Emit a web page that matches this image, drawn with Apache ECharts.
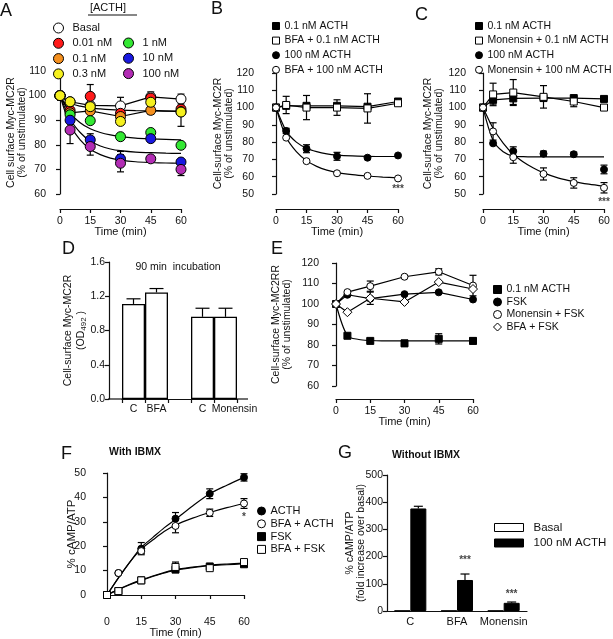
<!DOCTYPE html>
<html lang="en">
<head>
<meta charset="UTF-8">
<title>MC2R trafficking</title>
<script src="https://cdn.jsdelivr.net/npm/echarts@6/dist/echarts.min.js"></script>
<style>html,body{margin:0;background:#fff}#chart{width:613px;height:639px}</style>
</head>
<body>
<div id="chart"></div>
<script>
const FONT = 'Liberation Sans, Arial, sans-serif';
const INK = '#111';
const times = [0, 5, 15, 30, 45, 60];
const fitT = [0, 5, 10, 15, 20, 25, 30, 37.5, 45, 52.5, 60];

// A: dose series
const aBasal = [100, 97.5, 96, 95.8, 99.5, 98.6];
const a001 = [100, 94, 99.7, 92.8, 99, 94.5];
const a01 = [100, 93, 93.8, 91.5, 94, 93.5];
const a03 = [100, 97.5, 95.5, 89.5, 97.3, 93.3];
const a1 = [100, 92.2, 89.8, 83.3, 85, 79.8];
const a10 = [100, 90, 82, 74.3, 82.5, 73];
const a100 = [100, 86, 79.3, 72.5, 74.3, 70];
const aFit1 = [100, 97, 95.7, 95, 94.6, 94.3, 94.1, 93.9, 93.8, 93.7, 93.7];
const aFit3 = [100, 93, 89, 86.5, 85, 84, 83.3, 82.7, 82.4, 82.2, 82];
const aFit4 = [100, 90.5, 85, 81.5, 79.5, 78.3, 77.6, 77, 76.8, 76.6, 76.5];
const aFit5 = [100, 88, 82, 78.2, 76, 74.6, 73.8, 73.1, 72.8, 72.6, 72.5];
const aErr001 = [0, 0, 4.8, 0, 2.5, 0];
const aErr01 = [0, 0, 0, 2.5, 1.5, 6];
const aErrBasal = [0, 0, 0, 3.5, 0, 2];
const aErr100 = [0, 5.5, 3.5, 3.5, 0, 2.5];
const aErr10 = [0, 0, 2.5, 3, 0, 0];

// B: BFA
const b01 = [100, 101, 101, 101, 100.5, 103.5];
const bBfa01 = [100, 101.5, 100, 100, 99.5, 102.5];
const bBfa01Err = [0, 5, 7, 4.5, 8.5, 1];
const b100 = [100, 86.5, 76.2, 71.8, 71, 72.3];
const b100Err = [0, 1.5, 2.3, 2.3, 0, 0];
const bBfa100 = [100, 82.6, 69, 62, 60.5, 59];
const bFit100 = [100, 86.5, 80, 76.5, 74.5, 73.2, 72.5, 72, 71.8, 71.7, 71.7];
const bFitBfa100 = [100, 82.8, 74.5, 69.3, 66, 63.8, 62.4, 61.2, 60.4, 59.8, 59.3];

// C: monensin
const c01 = [100, 104.5, 105.3, 105.5, 105.5, 105];
const c01Err = [0, 2.5, 3.5, 0, 1, 0];
const cMon01 = [100, 107.6, 108.7, 106.2, 103.5, 100];
const cMon01Err = [0, 6.5, 7.5, 6.5, 3, 1.5];
const c100 = [100, 79.3, 74.8, 73.3, 73, 64.2];
const c100Err = [0, 0, 2.5, 1.5, 1.2, 2.5];
const cMon100 = [100, 86.2, 71.3, 61.6, 56.4, 53.6];
const cMon100Err = [0, 5, 3.5, 3.5, 3, 3];
const cFit100 = [100, 81, 74.5, 72, 71.6, 71.5, 71.5, 71.5, 71.5, 71.5, 71.5];
const cFitMon100 = [100, 88, 79.5, 73, 68.5, 65, 62.2, 59.2, 57.2, 55.7, 54.5];

// D: 90 min incubation
const dCats = ['C', 'BFA', '', 'C', 'Monensin'];
const dVals = [1.11, 1.245, '-', 0.96, 0.96];
const dErr = [0.06, 0.045, 0, 0.1, 0.1];

// E: forskolin
const e01 = [100, 84.5, 82, 80.8, 83, 82];
const e01Err = [0, 0, 1, 1.5, 2.5, 1.5];
const eFit01 = [100, 84.5, 82.7, 82.2, 82, 82, 82, 82, 82, 82, 82];
const eFsk = [100, 104.5, 102.6, 104.8, 105.7, 102.2];
const eMonFsk = [100, 105.8, 108.7, 113.3, 115.7, 109];
const eMonFskErr = [0, 0, 2.5, 0, 1.5, 5];
const eBfaFsk = [100, 96, 102.8, 101, 110.7, 107.3];
const eBfaFskErr = [0, 0, 3, 0, 0, 0];

// F: cAMP with IBMX
const fActh = [0, 9, 19, 31.3, 41.5, 48.2];
const fActhErr = [0, 0, 2.5, 2.5, 2, 1.5];
const fBfaActh = [0, 9, 18, 28.3, 33.7, 37.5];
const fBfaActhErr = [0, 0.5, 1, 2.8, 1.5, 2];
const fFsk = [0, 1.6, 6, 10.4, 11.7, 12.6];
const fBfaFsk = [0, 1.6, 6, 11.5, 11, 13.5];
const fBfaFskErr = [0, 0, 0, 2, 0, 0];
const fFitActh = [0, 7, 13.5, 19.5, 23.5, 27.5, 31, 36.5, 41.5, 45, 48.2];
const fFitBfaActh = [0, 7, 13.5, 18.8, 22.5, 26, 28.7, 31.5, 33.8, 35.8, 37.5];
const fFitFsk = [0, 2.2, 4.2, 6, 7.6, 9, 10.2, 11.2, 12, 12.4, 12.8];
const fFitBfaFsk = [0, 2.3, 4.4, 6.2, 7.8, 9.2, 10.4, 11.4, 12.2, 12.7, 13.1];

// G: cAMP without IBMX
const gCats = ['C', 'BFA', 'Monensin'];
const gBasal = [1, 1, 1];
const gActh = [377, 114, 30];
const gErr = [8, 22, 3];
const gStars = [[1, 185], [2, 62]];

const pts = vals => times.map((t, i) => [t, vals[i]]);
const fitPts = vals => fitT.map((t, i) => [t, vals[i]]);
const errs = (vals, e) => times.map((t, i) => [t, vals[i], e[i]]).filter(d => d[2] > 0);

function scatter(name, gi, vals, symbol, color, size) {
    return {
        type: 'scatter', name, xAxisIndex: gi, yAxisIndex: gi, data: pts(vals),
        symbol, symbolSize: size || 7, clip: false, z: 5,
        itemStyle: {color, borderColor: '#000', borderWidth: 1, opacity: 1}
    };
}
function line(gi, data, smooth) {
    return {
        type: 'line', xAxisIndex: gi, yAxisIndex: gi, data, symbol: 'none',
        smooth: smooth ? 0.3 : false, silent: true, z: 2,
        lineStyle: {color: '#000', width: 1.2}
    };
}
function errBars(gi, data, cap, upOnly, shift) {
    return {
        type: 'custom', xAxisIndex: gi, yAxisIndex: gi, data, z: 3, silent: true, clip: false,
        encode: {x: 0, y: 1},
        renderItem(params, api) {
            const x = api.value(0), v = api.value(1), e = api.value(2);
            const hi = api.coord([x, v + e]);
            const lo = api.coord([x, upOnly ? v : v - e]);
            const cx = hi[0] + (shift || 0);
            const st = {stroke: '#000', lineWidth: 1.2};
            const ch = [
                {type: 'line', shape: {x1: cx, y1: hi[1], x2: cx, y2: lo[1]}, style: st},
                {type: 'line', shape: {x1: cx - cap / 2, y1: hi[1], x2: cx + cap / 2, y2: hi[1]}, style: st}
            ];
            if (!upOnly) ch.push({type: 'line', shape: {x1: cx - cap / 2, y1: lo[1], x2: cx + cap / 2, y2: lo[1]}, style: st});
            return {type: 'group', children: ch};
        }
    };
}
function stars(gi, data, text, dx) {
    return {
        type: 'scatter', xAxisIndex: gi, yAxisIndex: gi, data, symbolSize: 1, clip: false, silent: true,
        itemStyle: {color: 'rgba(0,0,0,0)'},
        label: {show: true, position: 'inside', formatter: text, color: INK, fontSize: 10, fontWeight: 'bold',
            fontFamily: FONT, offset: [dx || 0, 0]}
    };
}

const axLine = {show: true, lineStyle: {color: INK, width: 1.2}};
const axTick = {show: true, length: 4, lineStyle: {color: INK, width: 1.2}};
const axLabel = {color: INK, fontSize: 10.5, fontFamily: FONT, margin: 4};

function timeAxis(gi, offset) {
    return {
        gridIndex: gi, type: 'value', min: 0, max: 60, interval: 15, offset,
        name: 'Time (min)', nameLocation: 'middle', nameGap: 17, nameMoveOverlap: false,
        nameTextStyle: {color: INK, fontSize: 11, fontFamily: FONT},
        axisLine: axLine, axisTick: axTick, axisLabel: Object.assign({}, axLabel, {margin: 7}),
        splitLine: {show: false}
    };
}
function valAxis(gi, min, max, interval, offset, name, nameGap, extra) {
    return Object.assign({
        gridIndex: gi, type: 'value', min, max, interval, offset,
        name, nameLocation: 'middle', nameGap, nameRotate: 90, nameMoveOverlap: false,
        nameTextStyle: {color: INK, fontSize: 10.5, fontFamily: FONT, lineHeight: 11},
        axisLine: axLine, axisTick: axTick, axisLabel: axLabel, splitLine: {show: false}
    }, extra || {});
}
function leg(name, icon, color) {
    return {name, icon, itemStyle: {color, borderColor: '#000', borderWidth: 1}};
}
function legend(left, top, gap, size, fontSize, data, w) {
    return {
        left, top, padding: 0, orient: 'vertical', itemGap: gap, itemWidth: w || size, itemHeight: size,
        selectedMode: false, symbolKeepAspect: true,
        textStyle: {color: INK, fontSize, fontFamily: FONT}, data
    };
}

const grids = [
    {left: 60, top: 71, width: 121, height: 123},   // A
    {left: 276, top: 73, width: 122, height: 121},  // B
    {left: 483, top: 73, width: 121, height: 121},  // C
    {left: 122, top: 262, width: 115, height: 137}, // D
    {left: 336, top: 263, width: 137, height: 123}, // E
    {left: 107, top: 473, width: 137, height: 123}, // F
    {left: 387, top: 475, width: 140, height: 136}  // G
];

const colA = {basal: '#ffffff', c001: '#ff1a1a', c01: '#f5901e', c03: '#f5f01e', c1: '#33e833', c10: '#1818e0', c100: '#b22cb4'};

const dLabels = dCats.map(c => c === 'Monensin' ? {value: c, textStyle: {padding: [0, 0, 0, 18]}} : c);

const xAxes = [
    timeAxis(0, 15), timeAxis(1, 15), timeAxis(2, 15),
    {gridIndex: 3, type: 'category', data: dLabels, axisLine: axLine, axisTick: axTick,
        axisLabel: Object.assign({}, axLabel, {margin: 5, interval: 0})},
    timeAxis(4, 13), timeAxis(5, 15),
    {gridIndex: 6, type: 'category', data: gCats, axisLine: axLine, axisTick: {show: false},
        axisLabel: Object.assign({}, axLabel, {margin: 5, fontSize: 11, interval: 0})}
];
const yAxes = [
    valAxis(0, 60, 110, 10, 10, 'Cell surface Myc-MC2R\n(% of unstimulated)', 22),
    valAxis(1, 50, 120, 10, 18, 'Cell-surface Myc-MC2R\n(% of unstimulated)', 23),
    valAxis(2, 50, 120, 10, 13, 'Cell-surface Myc-MC2R\n(% of unstimulated)', 25),
    valAxis(3, 0, 1.6, 0.4, 13, 'Cell-surface Myc-MC2R\n(OD{s|492} )', 21, {
        axisLabel: Object.assign({}, axLabel, {formatter: v => v.toFixed(1)}),
        nameTextStyle: {color: INK, fontSize: 10.5, fontFamily: FONT, lineHeight: 13,
            rich: {s: {fontSize: 8, fontFamily: FONT, color: INK, verticalAlign: 'bottom', padding: [4, 0, 0, 0]}}}
    }),
    valAxis(4, 60, 120, 10, 13, 'Cell-surface Myc-MC2RR\n(% of unstimulated)', 30),
    valAxis(5, 0, 50, 10, 17, '% cAMP/ATP', 12, {
        nameTextStyle: {color: INK, fontSize: 11.5, fontFamily: FONT}
    }),
    valAxis(6, 0, 500, 100, 0, '% cAMP/ATP\n(fold increase over basal)', 20, {
        nameTextStyle: {color: INK, fontSize: 10.5, fontFamily: FONT, lineHeight: 11}
    })
];

const series = [
    // A
    line(0, pts(aBasal), false), line(0, fitPts(aFit1), true), line(0, pts(a01), false),
    line(0, fitPts(aFit3), true), line(0, fitPts(aFit4), true), line(0, fitPts(aFit5), true),
    errBars(0, errs(a001, aErr001), 7), errBars(0, errs(a01, aErr01), 7),
    errBars(0, errs(aBasal, aErrBasal), 7), errBars(0, errs(a100, aErr100), 7),
    errBars(0, errs(a10, aErr10), 7),
    scatter('Basal', 0, aBasal, 'circle', colA.basal, 10),
    scatter('0.01 nM', 0, a001, 'circle', colA.c001, 10),
    scatter('0.1 nM', 0, a01, 'circle', colA.c01, 10),
    scatter('1 nM', 0, a1, 'circle', colA.c1, 10),
    scatter('10 nM', 0, a10, 'circle', colA.c10, 10),
    scatter('100 nM', 0, a100, 'circle', colA.c100, 10),
    scatter('0.3 nM', 0, a03, 'circle', colA.c03, 10),
    // B
    line(1, pts(b01), false), line(1, pts(bBfa01), false),
    line(1, fitPts(bFit100), true), line(1, fitPts(bFitBfa100), true),
    errBars(1, errs(bBfa01, bBfa01Err), 7), errBars(1, errs(b100, b100Err), 7),
    scatter('0.1 nM ACTH', 1, b01, 'rect', '#000', 7),
    scatter('BFA + 0.1 nM ACTH', 1, bBfa01, 'rect', '#fff', 7),
    scatter('100 nM ACTH', 1, b100, 'circle', '#000', 7),
    scatter('BFA + 100 nM ACTH', 1, bBfa100, 'circle', '#fff', 7),
    stars(1, [[60, 53]], '***'),
    // C
    line(2, pts(c01), false), line(2, pts(cMon01), false),
    line(2, fitPts(cFit100), true), line(2, fitPts(cFitMon100), true),
    errBars(2, errs(c01, c01Err), 7), errBars(2, errs(cMon01, cMon01Err), 7),
    errBars(2, errs(c100, c100Err), 7), errBars(2, errs(cMon100, cMon100Err), 7),
    scatter('0.1 nM ACTH', 2, c01, 'rect', '#000', 7),
    scatter('Monensin + 0.1 nM ACTH', 2, cMon01, 'rect', '#fff', 7),
    scatter('100 nM ACTH', 2, c100, 'circle', '#000', 7),
    scatter('Monensin + 100 nM ACTH', 2, cMon100, 'circle', '#fff', 7),
    stars(2, [[60, 45.5]], '***'),
    // D
    {type: 'bar', xAxisIndex: 3, yAxisIndex: 3, data: dVals, barWidth: '100%', z: 2,
        itemStyle: {color: '#fff', borderColor: '#000', borderWidth: 1.3}},
    errBars(3, dVals.map((v, i) => [i, v, dErr[i]]).filter(d => d[2] > 0), 14, true),
    // E
    line(4, fitPts(eFit01), true), line(4, pts(eFsk), false), line(4, pts(eMonFsk), false), line(4, pts(eBfaFsk), false),
    errBars(4, errs(e01, e01Err), 7), errBars(4, errs(eMonFsk, eMonFskErr), 7),
    errBars(4, errs(eBfaFsk, eBfaFskErr), 7),
    scatter('0.1 nM ACTH', 4, e01, 'rect', '#000', 7),
    scatter('FSK', 4, eFsk, 'circle', '#000', 7),
    scatter('Monensin + FSK', 4, eMonFsk, 'circle', '#fff', 7),
    scatter('BFA + FSK', 4, eBfaFsk, 'diamond', '#fff', 9),
    // F
    line(5, fitPts(fFitActh), true), line(5, fitPts(fFitBfaActh), true),
    line(5, fitPts(fFitFsk), true), line(5, fitPts(fFitBfaFsk), true),
    errBars(5, errs(fActh, fActhErr), 7), errBars(5, errs(fBfaActh, fBfaActhErr), 7),
    errBars(5, errs(fBfaFsk, fBfaFskErr), 7),
    scatter('ACTH', 5, fActh, 'circle', '#000', 7),
    scatter('BFA + ACTH', 5, fBfaActh, 'circle', '#fff', 7),
    scatter('FSK', 5, fFsk, 'rect', '#000', 7),
    scatter('BFA + FSK', 5, fBfaFsk, 'rect', '#fff', 7),
    stars(5, [[60, 32]], '*'),
    // G
    {type: 'bar', name: 'Basal', xAxisIndex: 6, yAxisIndex: 6, data: gBasal, barWidth: 16, barGap: '0%',
        itemStyle: {color: '#fff', borderColor: '#000', borderWidth: 1}},
    {type: 'bar', name: '100 nM ACTH', xAxisIndex: 6, yAxisIndex: 6, data: gActh, barWidth: 16, barGap: '0%',
        itemStyle: {color: '#000', borderColor: '#000', borderWidth: 1}},
    errBars(6, gActh.map((v, i) => [i, v, gErr[i]]), 9, true, 8),
    stars(6, gStars, '***', 8)
];

const legends = [
    legend(53, 22.5, 4.3, 10, 11, [
        leg('Basal', 'circle', colA.basal), leg('0.01 nM', 'circle', colA.c001),
        leg('0.1 nM', 'circle', colA.c01), leg('0.3 nM', 'circle', colA.c03)], 18),
    legend(123, 37.5, 4.3, 10, 11, [
        leg('1 nM', 'circle', colA.c1), leg('10 nM', 'circle', colA.c10), leg('100 nM', 'circle', colA.c100)], 18),
    legend(272, 20.5, 3.6, 7, 10.5, [
        leg('0.1 nM ACTH', 'rect', '#000'), leg('BFA + 0.1 nM ACTH', 'rect', '#fff'),
        leg('100 nM ACTH', 'circle', '#000'), leg('BFA + 100 nM ACTH', 'circle', '#fff')]),
    legend(475, 20.5, 3.6, 7, 10.5, [
        leg('0.1 nM ACTH', 'rect', '#000'), leg('Monensin + 0.1 nM ACTH', 'rect', '#fff'),
        leg('100 nM ACTH', 'circle', '#000'), leg('Monensin + 100 nM ACTH', 'circle', '#fff')]),
    legend(493, 284, 1.5, 8, 10.5, [
        leg('0.1 nM ACTH', 'rect', '#000'), leg('FSK', 'circle', '#000'),
        leg('Monensin + FSK', 'circle', '#fff'), leg('BFA + FSK', 'diamond', '#fff')]),
    legend(257, 505.5, 1.8, 8, 11, [
        leg('ACTH', 'circle', '#000'), leg('BFA + ACTH', 'circle', '#fff'),
        leg('FSK', 'rect', '#000'), leg('BFA + FSK', 'rect', '#fff')]),
    Object.assign(legend(494, 521.5, 3.5, 8, 11.5, [
        leg('Basal', 'rect', '#fff'), leg('100 nM ACTH', 'rect', '#000')], 29), {
        textStyle: {color: INK, fontSize: 11.5, fontFamily: FONT, padding: [0, 0, 0, 5]}
    })
];

function txt(x, y, text, size, weight, align) {
    return {type: 'text', x, y, silent: true, style: {text, fill: INK, font: (weight || 'normal') + ' ' + size + 'px ' + FONT,
        textAlign: align || 'left', textVerticalAlign: 'top'}};
}
function rule(x1, y1, x2, y2) {
    return {type: 'line', silent: true, shape: {x1, y1, x2, y2}, style: {stroke: INK, lineWidth: 1.2}};
}

const chart = echarts.init(document.getElementById('chart'), null, {renderer: 'canvas'});
chart.setOption({
    animation: false,
    backgroundColor: '#fff',
    grid: grids,
    xAxis: xAxes,
    yAxis: yAxes,
    legend: legends,
    series,
    graphic: [
        txt(0, 2, 'A', 18), txt(211, 0, 'B', 18), txt(415, 6, 'C', 18),
        txt(62, 240, 'D', 18), txt(271, 240, 'E', 18), txt(61, 445, 'F', 18), txt(338, 444, 'G', 18),
        txt(108, 2, '[ACTH]', 11, 'normal', 'center'),
        rule(88, 15, 137, 15),
        // D baseline runs past the outer bars, as in the figure
        rule(108, 399, 122, 399), rule(237, 399, 248, 399),
        txt(178, 262, '90 min  incubation', 10.5, 'normal', 'center'),
        txt(135, 447, 'With IBMX', 10.5, 'bold', 'center'),
        txt(426, 450, 'Without IBMX', 10.5, 'bold', 'center')
    ]
});
</script>
</body>
</html>
